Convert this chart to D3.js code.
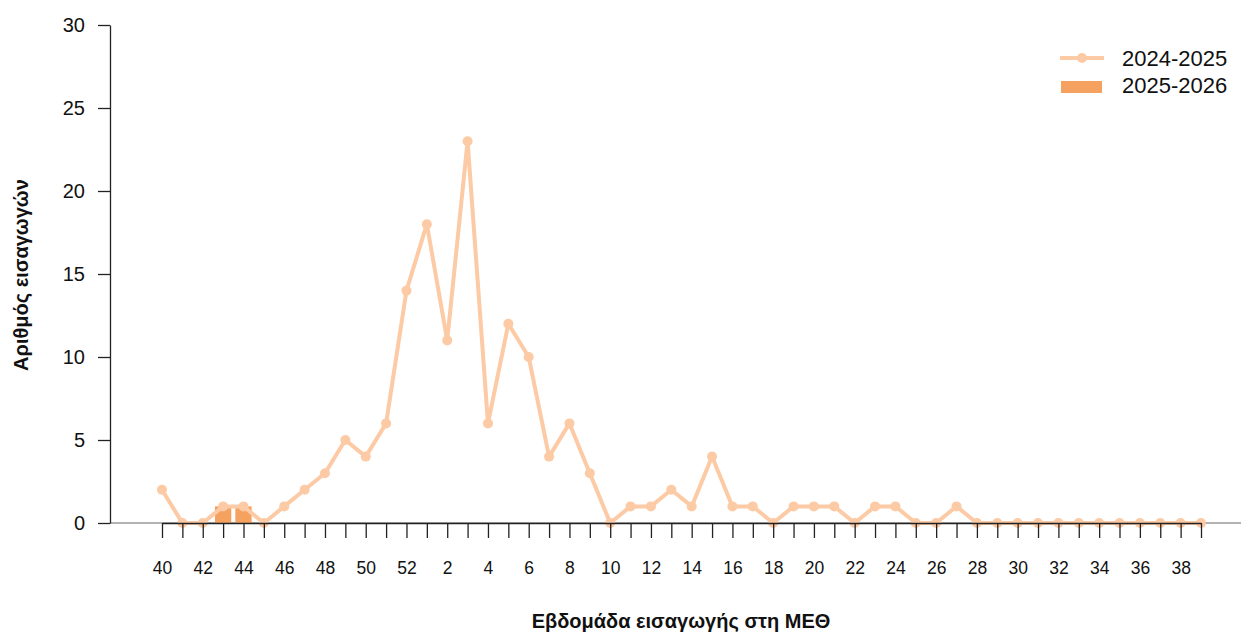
<!DOCTYPE html>
<html>
<head>
<meta charset="utf-8">
<script src="https://cdn.jsdelivr.net/npm/d3@7"></script>
<style>
  body { margin: 0; background: #fff; }
  svg { display: block; font-family: "Liberation Sans", Arial, sans-serif; }
</style>
</head>
<body>
<svg id="chart" width="1241" height="635"></svg>
<script>
// weeks of the season, 40..52 then 1..39
const weeks = [40,41,42,43,44,45,46,47,48,49,50,51,52,
  1,2,3,4,5,6,7,8,9,10,11,12,13,14,15,16,17,18,19,20,21,22,23,24,25,26,27,28,29,30,31,32,33,34,35,36,37,38,39]
const season2425 = [2,0,0,1,1,0,1,2,3,5,4,6,14,
  18,11,23,6,12,10,4,6,3,0,1,1,2,1,4,1,1,0,1,1,1,0,1,1,0,0,1,0,0,0,0,0,0,0,0,0,0,0,0]
// 2025-2026 only has the first weeks so far
const weeks2526 = [40,41,42,43,44]
const season2526 = [0,0,0,1,1]
const yTicks = [0,5,10,15,20,25,30]
const seriesNames = ["2024-2025", "2025-2026"]

const lineColor = "#fccaa5"
const barColor = "#f5a261"

const svg = d3.select("#chart")
const width = 1241, height = 635
const margin = {top: 25, bottom: 112, left: 110}

let x = d3.scalePoint()
    .domain(weeks)
    .range([162, 1201])
let y = d3.scaleLinear()
    .domain([0, 30])
    .range([height - margin.bottom, margin.top])

// gray zero line across the plot
svg.append("line")
    .attr("x1", margin.left).attr("x2", width)
    .attr("y1", y(0)).attr("y2", y(0))
    .attr("stroke", "#999").attr("stroke-width", 1.5)

// bars for the current season
let barW = x.step() * 0.8
svg.append("g")
    .selectAll("rect")
    .data(weeks2526.map((w, i) => ({w: w, v: season2526[i]})).filter(d => d.v > 0))
    .join("rect")
    .attr("x", d => x(d.w) - barW / 2)
    .attr("y", d => y(d.v))
    .attr("width", barW)
    .attr("height", d => y(0) - y(d.v))
    .attr("fill", barColor)

// previous season line
let pts = weeks.map((w, i) => ({w: w, v: season2425[i]}))
svg.append("path")
    .datum(pts)
    .attr("fill", "none")
    .attr("stroke", lineColor)
    .attr("stroke-width", 4)
    .attr("stroke-linejoin", "round")
    .attr("d", d3.line().x(d => x(d.w)).y(d => y(d.v)))
svg.append("g")
    .selectAll("circle")
    .data(pts)
    .join("circle")
    .attr("cx", d => x(d.w))
    .attr("cy", d => y(d.v))
    .attr("r", 5)
    .attr("fill", lineColor)

// x axis
let xAxis = svg.append("g")
    .attr("transform", `translate(0,${y(0)})`)
    .call(d3.axisBottom(x).tickSize(15).tickPadding(24)
        .tickSizeOuter(0)
        .tickFormat((d, i) => i % 2 === 0 ? d : ""))
xAxis.select(".domain").attr("stroke", "#222").attr("stroke-width", 1.3)
xAxis.selectAll(".tick line").attr("stroke", "#222").attr("stroke-width", 1.3)
xAxis.selectAll("text").attr("font-size", 17.5).attr("fill", "#111")
    .attr("font-family", "Liberation Sans, Arial, sans-serif")

// y axis
let yAxis = svg.append("g")
    .attr("transform", `translate(${margin.left},0)`)
    .call(d3.axisLeft(y).tickValues(yTicks).tickSize(12).tickPadding(13).tickSizeOuter(0))
yAxis.select(".domain").attr("stroke", "#222").attr("stroke-width", 1.3)
yAxis.selectAll(".tick line").attr("stroke", "#222").attr("stroke-width", 1.3)
yAxis.selectAll("text").attr("font-size", 20).attr("fill", "#111")
    .attr("font-family", "Liberation Sans, Arial, sans-serif")

// axis titles
svg.append("text")
    .attr("x", 681).attr("y", 628)
    .attr("text-anchor", "middle")
    .attr("font-size", 20).attr("font-weight", "bold")
    .attr("fill", "#111")
    .text("Εβδομάδα εισαγωγής στη ΜΕΘ")
svg.append("text")
    .attr("transform", "translate(28,275) rotate(-90)")
    .attr("text-anchor", "middle")
    .attr("font-size", 20).attr("font-weight", "bold")
    .attr("fill", "#111")
    .text("Αριθμός εισαγωγών")

// legend
let lg = svg.append("g")
lg.append("line")
    .attr("x1", 1060).attr("x2", 1104).attr("y1", 58).attr("y2", 58)
    .attr("stroke", lineColor).attr("stroke-width", 4)
lg.append("circle").attr("cx", 1082).attr("cy", 58).attr("r", 5).attr("fill", lineColor)
lg.append("rect")
    .attr("x", 1061).attr("y", 81).attr("width", 41).attr("height", 12)
    .attr("fill", barColor)
lg.selectAll("text")
    .data(seriesNames)
    .join("text")
    .attr("x", 1122)
    .attr("y", (d, i) => 66 + i * 27)
    .attr("font-size", 22)
    .attr("fill", "#111")
    .text(d => d)
</script>
</body>
</html>
